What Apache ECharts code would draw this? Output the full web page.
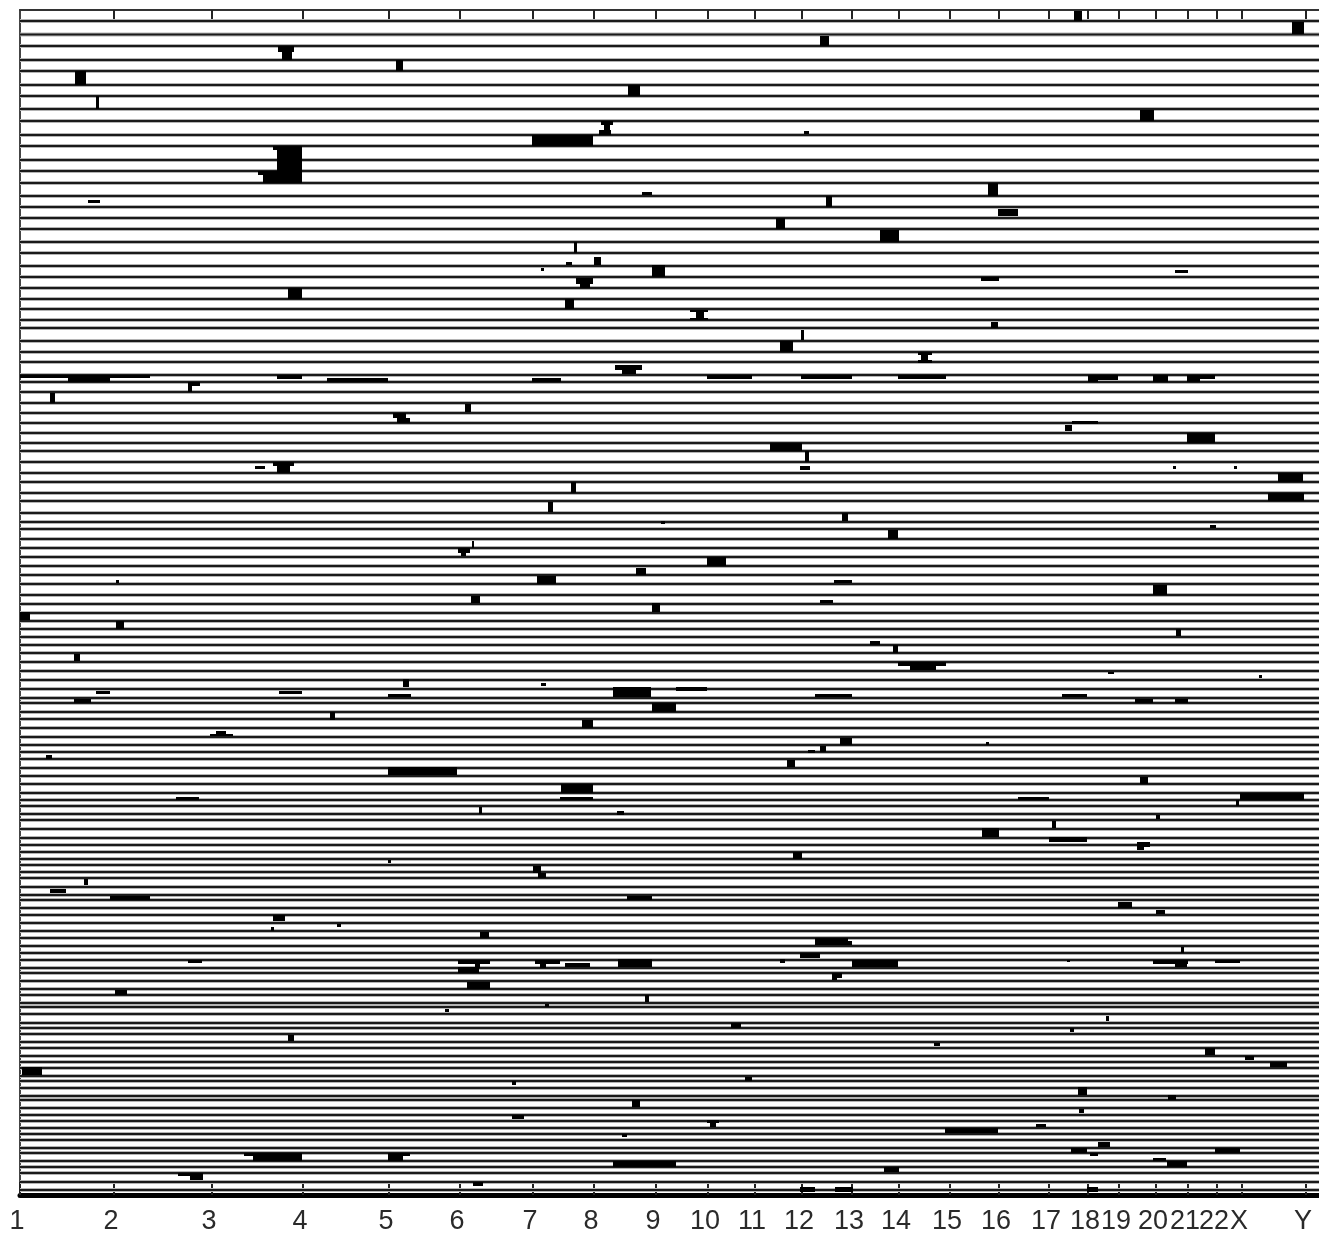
<!DOCTYPE html>
<html><head><meta charset="utf-8"><style>html,body{margin:0;padding:0;background:#fff}#c{width:1319px;height:1236px}</style>
<script src="https://cdn.jsdelivr.net/npm/echarts@6/dist/echarts.min.js"></script></head><body><div id="c"></div>
<script>
const tickPositions=[20,114,212,303,389,460,533,594,656,708,755,802,852,899,950,999,1049,1088,1119,1156,1188,1217,1242,1306];
const tickLabels=['1','2','3','4','5','6','7','8','9','10','11','12','13','14','15','16','17','18','19','20','21','22','X','Y'];
const rowLines=[21,34.5,46,60,71,85,96,109,121,135,146,160,171,183,196,207,218,229,242,253,266,277,288,299,309,320,328,341,352,362,375,382,392,403,413,423,433,443,451,462,473,482,493,501,513,522,529,539,548,557,566,575,584,595,604,613,621,629,637,645,653,662,671,680,689,698,703,712,719,728,737,745,752,759,768,776,784,793,800,806,814,820,829,838,845,852,859,865,872,878,887,895,900,908,915,923,931,938,946,953,960,968,973,981,989,995,1003,1007,1014,1023,1028,1034,1042,1048,1056,1062,1068,1076,1081,1088,1096,1100,1108,1115,1121,1128,1134,1140,1148,1153,1161,1167,1173,1182,1190];
const blobs=[[1074,1082,11,21],[1292,1304,22,34],[820,829,36,46],[278,294,46,52],[282,292,52,60],[396,403,60,71],[75,86,71,85],[628,640,85,96],[96,99,96,109],[1140,1154,110,121],[601,613,121,125],[604,610,125,130],[599,611,130,135],[532,593,135,146],[804,809,131,134],[273,302,146,150],[277,302,150,160],[277,302,160,171],[258,302,171,175],[263,302,175,183],[642,652,192,195],[88,100,200,203],[988,998,183,196],[826,832,196,207],[998,1018,209,216],[776,785,218,229],[880,899,230,242],[574,577,242,253],[566,572,262,265],[594,601,257,265],[541,544,268,271],[652,665,265,277],[1175,1188,270,273],[981,999,277,281],[576,593,278,284],[580,590,284,288],[288,302,288,299],[565,574,299,309],[690,708,310,312],[696,704,312,318],[690,708,318,320],[991,998,322,328],[801,804,330,340],[780,793,341,352],[918,932,352,355],[921,928,355,360],[918,932,360,363],[615,642,365,370],[622,636,370,374],
[20,150,375,378],[68,110,375,382],[277,302,375,379],[327,388,378,382],[532,561,378,382],[707,752,375,379],[801,852,375,379],[898,946,375,379],[1088,1118,375,380],[1088,1098,375,382],[1153,1168,375,382],[1187,1215,375,379],[1187,1200,375,382],
[188,192,382,392],[188,200,382,386],[50,55,393,403],[465,471,404,412],[393,406,413,418],[397,410,418,423],[1065,1072,425,431],[1072,1098,421,424],[1187,1215,433,443],[770,802,443,451],[805,809,451,462],[255,265,466,469],[273,294,462,466],[277,290,466,473],[800,810,466,470],[1173,1176,466,469],[1234,1237,466,469],[1278,1303,473,482],[1268,1304,493,501],[571,576,482,493],[548,553,502,512],[842,848,513,521],[661,665,521,524],[1210,1216,525,528],[888,898,530,539],[472,474,541,548],[458,470,548,553],[461,466,553,556],[707,726,557,566],[537,556,576,584],[636,646,568,575],[116,119,580,583],[834,852,580,583],[1153,1167,585,595],[471,480,596,603],[820,833,600,603],[652,660,603,612],[20,30,612,620],[116,124,621,629],[1176,1181,629,636],[870,880,641,645],[893,898,645,653],[74,80,654,661],[898,946,662,666],[910,936,666,670],[1108,1114,672,674],[1259,1262,675,678],[403,409,679,687],[541,546,683,686],[96,110,691,694],[279,302,691,694],[613,651,687,697],[676,707,687,691],[815,852,694,697],[1062,1087,694,697],[388,411,694,697],[74,91,699,703],[652,676,703,712],[1135,1153,699,703],[1175,1188,699,703],[330,335,712,720],[582,593,720,728],[216,226,731,734],[210,233,734,736],[840,852,738,745],[820,826,746,752],[808,815,750,753],[986,989,742,745],[787,795,760,767],[46,52,755,759],[388,457,767,775],[1140,1148,777,784],[561,593,784,793],[560,593,797,800],[176,199,797,800],[1018,1049,797,800],[1240,1304,793,800],[1236,1239,800,806],[479,482,807,814],[617,624,811,815],[1156,1160,815,819],[1052,1056,821,828],[982,999,828,837],[1049,1087,837,842],[1137,1150,842,847],[1137,1144,847,850],[793,802,852,859],[388,391,860,863],[533,541,866,873],[538,546,873,878],[84,88,879,885],[50,66,889,893],[110,150,896,900],[627,652,896,900],[1118,1132,902,908],[1156,1165,910,914],[273,285,915,921],[271,274,927,931],[337,341,924,927],[480,489,932,938],[815,848,938,945],[848,852,941,945],[1181,1184,947,953],[800,820,953,958],[188,202,960,963],[458,490,960,964],[475,480,964,968],[458,479,967,973],[535,560,960,964],[540,546,964,968],[565,590,963,967],[618,652,959,967],[780,785,959,963],[852,898,960,967],[1067,1070,960,962],[1153,1188,960,964],[1175,1187,964,967],[1215,1240,960,963],[832,842,973,978],[832,837,978,980],[467,490,982,989],[115,127,990,995],[645,649,995,1002],[545,549,1004,1007],[445,449,1009,1012],[1106,1109,1016,1021],[731,741,1023,1028],[1070,1074,1028,1032],[288,294,1035,1041],[934,940,1043,1046],[1205,1215,1048,1055],[1245,1254,1056,1060],[1270,1287,1062,1067],[22,42,1067,1075],[512,516,1081,1085],[745,752,1077,1081],[1078,1087,1087,1095],[632,640,1100,1107],[1168,1176,1095,1100],[1079,1084,1109,1113],[512,524,1115,1119],[707,719,1120,1123],[710,716,1123,1127],[945,998,1128,1133],[1036,1046,1124,1127],[622,627,1134,1137],[1071,1087,1148,1153],[1098,1110,1142,1147],[1090,1098,1153,1156],[1215,1240,1148,1153],[244,302,1153,1156],[253,302,1156,1161],[388,410,1153,1156],[388,403,1156,1161],[613,676,1161,1167],[1153,1166,1158,1161],[1167,1187,1161,1167],[884,899,1167,1172],[178,203,1173,1176],[190,203,1176,1180],[473,483,1182,1186],[800,815,1187,1192],[835,853,1187,1192],[1087,1098,1187,1192]];

const chart=echarts.init(document.getElementById('c'),null,{renderer:'canvas'});
const xBase={type:'value',min:20,max:1319,splitLine:{show:false}};
chart.setOption({
  animation:false,
  backgroundColor:'#fff',
  grid:{left:20,right:0,top:10,bottom:41},
  xAxis:[
    Object.assign({},xBase,{position:'bottom',
      axisLine:{show:true,lineStyle:{color:'#000',width:5}},
      axisTick:{show:true,inside:true,length:13,lineStyle:{color:'#222',width:2},customValues:tickPositions},
      axisLabel:{show:true,margin:13,fontFamily:'Liberation Sans',fontSize:27,color:'#2a2a2a',padding:[0,6,0,0],
        customValues:tickPositions,formatter:v=>tickLabels[tickPositions.indexOf(v)]}}),
    Object.assign({},xBase,{position:'top',
      axisLine:{show:true,lineStyle:{color:'#333',width:2}},
      axisTick:{show:true,inside:true,length:11,lineStyle:{color:'#222',width:2},customValues:tickPositions.slice(1)},
      axisLabel:{show:false}})
  ],
  yAxis:{type:'value',inverse:true,min:10,max:1195,splitLine:{show:false},axisTick:{show:false},axisLabel:{show:false},
    axisLine:{show:true,onZero:false,lineStyle:{color:'#444',width:2}}},
  series:[
    {type:'custom',name:'rowHalo',coordinateSystem:'cartesian2d',silent:true,z:1,clip:true,
     data:rowLines.map(y=>[y]),encode:{y:0},
     renderItem:(p,api)=>{const a=api.coord([20,api.value(0)]),b=api.coord([1319,api.value(0)]);
       return {type:'line',shape:{x1:a[0],y1:a[1],x2:b[0],y2:b[1]},style:{stroke:'#b4b4b4',lineWidth:4}};}},
    {type:'custom',name:'rows',coordinateSystem:'cartesian2d',silent:true,z:2,clip:true,
     data:rowLines.map(y=>[y]),encode:{y:0},
     renderItem:(p,api)=>{const a=api.coord([20,api.value(0)]),b=api.coord([1319,api.value(0)]);
       return {type:'line',shape:{x1:a[0],y1:a[1],x2:b[0],y2:b[1]},style:{stroke:'#1a1a1a',lineWidth:2}};}},
    {type:'custom',name:'blobs',coordinateSystem:'cartesian2d',silent:true,z:3,clip:true,
     data:blobs,encode:{x:[0,1],y:[2,3]},
     renderItem:(p,api)=>{const a=api.coord([api.value(0),api.value(2)]),b=api.coord([api.value(1),api.value(3)]);
       return {type:'rect',shape:{x:a[0],y:a[1],width:b[0]-a[0],height:b[1]-a[1]},style:{fill:'#000'}};}}
  ]
});
</script></body></html>
